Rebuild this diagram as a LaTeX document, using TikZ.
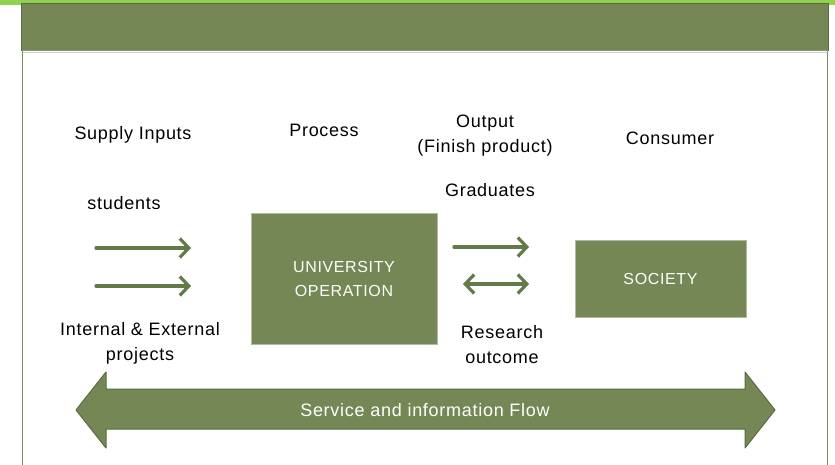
\documentclass[tikz,border=0pt]{standalone}
\usepackage{fontspec}
\setmainfont{Liberation Sans}[LetterSpace=4]
\usetikzlibrary{arrows.meta}
\definecolor{panelgreen}{HTML}{748755}
\definecolor{linegreen}{HTML}{627A45}
\definecolor{edgegreen}{HTML}{5A6B40}
\definecolor{topgreen}{HTML}{92D050}
\definecolor{framegreen}{HTML}{7D8D68}

\begin{document}
\begin{tikzpicture}[x=1pt,y=-1pt,
	lbl/.style={font=\fontsize{18}{25}\selectfont,align=center},
	boxnode/.style={fill=panelgreen,draw=framegreen!60,line width=1pt,text=white,font=\fontsize{16}{24}\selectfont,align=center},
	flow/.style={linegreen,line width=3.2pt,line cap=round,-{Straight Barb[length=9pt,width=19pt]}},
	twoflow/.style={flow,{Straight Barb[length=9pt,width=19pt]}-{Straight Barb[length=9pt,width=19pt]}}]
	\useasboundingbox (0,0) rectangle (835,465);
	\fill [topgreen] (0,0) rectangle (835,5);
	\fill [panelgreen] (21,4) rectangle (829,51);
	\draw [edgegreen, line width=1pt] (21.5,51) -- (21.5,4) -- (828.5,4) -- (828.5,51);
	\draw [edgegreen!70, line width=1pt] (22,51) -- (828,51);
	\draw [framegreen!40, line width=1.5pt] (23,52.5) -- (827,52.5);
	\draw [framegreen, line width=1.8pt] (22.5,51) -- (22.5,465);
	\draw [framegreen, line width=1.8pt] (827.5,51) -- (827.5,465);
	\node [lbl] (supply) at (133,135) {Supply Inputs};
	\node [lbl] (process) at (324,130) {Process};
	\node [lbl] (output) at (485,135.5) {Output\\(Finish product)};
	\node [lbl] (consumer) at (670,138) {Consumer};
	\node [lbl] (students) at (124,203) {students};
	\node [lbl] (graduates) at (490,190) {Graduates};
	\node [lbl] (projects) at (140,343.5) {Internal \& External\\projects};
	\node [lbl] (research) at (502,344.5) {Research\\outcome};
	\node [boxnode, minimum width=186pt, minimum height=130pt] (uni) at (344,279) {UNIVERSITY\\OPERATION};
	\node [boxnode, minimum width=171pt, minimum height=77pt] (society) at (660.5,278.5) {SOCIETY};
	\coordinate (in1) at (96,248);
	\coordinate (in2) at (96,286);
	\coordinate (grad) at (454,247);
	\coordinate (res) at (463,284);
	\draw [flow] (in1) -- ++(95,0);
	\draw [flow] (in2) -- ++(95,0);
	\draw [flow] (grad) -- ++(75,0);
	\draw [twoflow] (res) -- ++(66,0);
	\draw [fill=panelgreen, draw=edgegreen, line width=1pt, line join=round]
		(76,410) -- (106,372) -- (106,389) -- (745,389) -- (745,372) -- (775,410)
		-- (745,448) -- (745,429) -- (106,429) -- (106,448) -- cycle;
	\node [lbl, text=white] (service) at (425,410) {Service and information Flow};
\end{tikzpicture}
\end{document}
